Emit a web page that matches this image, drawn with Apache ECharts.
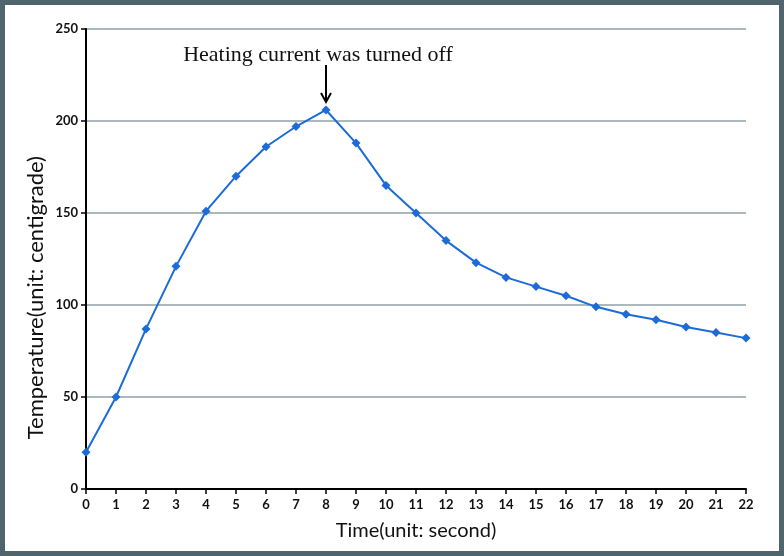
<!DOCTYPE html>
<html>
<head>
<meta charset="utf-8">
<script src="https://cdn.jsdelivr.net/npm/echarts@6/dist/echarts.min.js"></script>
<style>
html,body{margin:0;padding:0;background:#fff;}
#frame{position:absolute;left:0;top:0;width:784px;height:556px;box-sizing:border-box;border:5px solid #4f646d;background:#fff;}
#chart{position:absolute;left:-5px;top:-5px;width:784px;height:556px;}
</style>
</head>
<body>
<div id="frame"><div id="chart"></div></div>
<script>
const times = [0,1,2,3,4,5,6,7,8,9,10,11,12,13,14,15,16,17,18,19,20,21,22];
const temperatures = [20,50,87,121,151,170,186,197,206,188,165,150,135,123,115,110,105,99,95,92,88,85,82];
const yTicks = [0,50,100,150,200,250];
const annotationText = 'Heating current was turned off';
const xName = 'Time(unit: second)';
const yName = 'Temperature(unit: centigrade)';
const peakIndex = 8;

const chart = echarts.init(document.getElementById('chart'));
const option = {
  animation: false,
  backgroundColor: 'transparent',
  grid: {left: 86, right: 38, top: 29, bottom: 67},
  xAxis: {
    type: 'value', min: 0, max: 22, interval: 1,
    axisLine: {show: true, onZero: false, lineStyle: {color: '#000', width: 2}},
    axisTick: {show: true, length: 5, lineStyle: {color: '#000', width: 1.5}},
    axisLabel: {fontFamily: 'Lato', fontWeight: 'bold', fontSize: 13, color: '#111', margin: 9},
    splitLine: {show: false}
  },
  yAxis: {
    type: 'value', min: yTicks[0], max: yTicks[yTicks.length-1], interval: 50,
    axisLine: {show: true, lineStyle: {color: '#000', width: 2}},
    axisTick: {show: true, length: 5, lineStyle: {color: '#000', width: 1.5}},
    axisLabel: {fontFamily: 'Lato', fontWeight: 'bold', fontSize: 13, color: '#111', margin: 8},
    splitLine: {show: true, lineStyle: {color: '#8fa2aa', width: 1.5}}
  },
  series: [{
    type: 'line',
    data: times.map((t, i) => [t, temperatures[i]]),
    symbol: 'diamond', symbolSize: 9,
    lineStyle: {color: '#1d6bd6', width: 2},
    itemStyle: {color: '#1d6bd6'}
  }]
};
chart.setOption(option);

const peak = chart.convertToPixel({gridIndex: 0}, [times[peakIndex], temperatures[peakIndex]]);
const tip = peak[1] - 8;
const xMid = chart.convertToPixel({gridIndex: 0}, [11, 0]);
const yMid = chart.convertToPixel({gridIndex: 0}, [0, 104]);
chart.setOption({
  graphic: [
    {type: 'text', x: peak[0] - 8, y: 55, style: {text: annotationText, font: '22px "Liberation Serif"', fill: '#111', textAlign: 'center', textVerticalAlign: 'middle'}},
    {type: 'line', shape: {x1: peak[0], y1: 65, x2: peak[0], y2: tip}, style: {stroke: '#000', lineWidth: 2}},
    {type: 'polyline', shape: {points: [[peak[0]-5, tip-9], [peak[0], tip], [peak[0]+5, tip-9]]}, style: {stroke: '#000', lineWidth: 2, fill: null}},
    {type: 'text', x: xMid[0], y: 531, style: {text: xName, font: '20px Lato', fill: '#111', textAlign: 'center', textVerticalAlign: 'middle'}},
    {type: 'text', rotation: Math.PI/2, x: 36, y: yMid[1], style: {text: yName, font: '22px Lato', fill: '#111', textAlign: 'center', textVerticalAlign: 'middle'}}
  ]
});
</script>
</body>
</html>
